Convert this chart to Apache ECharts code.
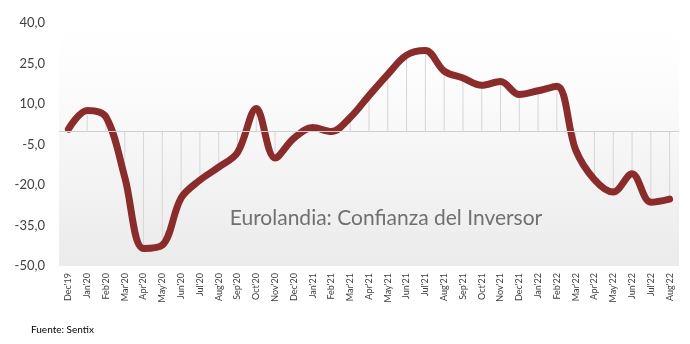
<!DOCTYPE html>
<html><head><meta charset="utf-8">
<script src="https://cdn.jsdelivr.net/npm/echarts@6/dist/echarts.min.js"></script>
<style>html,body{margin:0;padding:0;background:#fff}#c{width:690px;height:344px}</style>
</head><body><div id="c"></div>
<script>
const categories = ["Dec'19","Jan'20","Feb'20","Mar'20","Apr'20","May'20","Jun'20","Jul'20","Aug'20","Sep'20","Oct'20","Nov'20","Dec'20","Jan'21","Feb'21","Mar'21","Apr'21","May'21","Jun'21","Jul'21","Aug'21","Sep'21","Oct'21","Nov'21","Dec'21","Jan'22","Feb'22","Mar'22","Apr'22","May'22","Jun'22","Jul'22","Aug'22"];
const confidence = [0.7,7.6,5.2,-17.1,-43.5,-42.3,-24.8,-18.2,-13.4,-8.0,8.3,-10.0,-2.7,1.3,-0.2,5.0,13.1,21.0,28.1,29.8,22.2,19.6,16.9,18.3,13.5,14.9,16.6,-7.0,-18.0,-22.6,-15.8,-26.4,-25.2];
const yTickLabels = ["-50,0","-35,0","-20,0","-5,0","10,0","25,0","40,0"];
const chartTitle = "Eurolandia: Confianza del Inversor";
const sourceNote = "Fuente: Sentix";

const chart = echarts.init(document.getElementById('c'), null, {renderer:'canvas'});
const FONT = 'Lato';
chart.setOption({
  animation:false,
  title:[{text:chartTitle,left:381,top:203,textAlign:'center',
          textStyle:{fontFamily:FONT,fontSize:21,fontWeight:'normal',color:'#707070'}},
         {text:sourceNote,left:26,top:320,
          textStyle:{fontFamily:FONT,fontSize:10,fontWeight:'normal',color:'#000'}}],
  grid:{left:59,right:11,top:23,bottom:78,show:true,borderWidth:0,
        backgroundColor:new echarts.graphic.LinearGradient(0,0,0,1,[{offset:0,color:'#ffffff'},{offset:0.2,color:'#fdfdfd'},{offset:1,color:'#ebebeb'}])},
  xAxis:{type:'category',data:categories,boundaryGap:true,
    axisLine:{show:false},axisTick:{show:false},
    axisLabel:{rotate:90,fontFamily:FONT,fontSize:9,color:'#404040',margin:7,interval:0}},
  yAxis:[{type:'value',min:-50,max:40,show:false,splitLine:{show:false}},
         {type:'value',min:0,max:90,interval:15,position:'left',
          axisLine:{show:false},axisTick:{show:false},splitLine:{show:false},
          axisLabel:{fontFamily:FONT,fontSize:13,color:'#404040',margin:14,
            formatter:(v)=>yTickLabels[Math.round(v/15)]}}],
  series:[
    {type:'bar',data:confidence,barWidth:1,yAxisIndex:0,itemStyle:{color:'#d6d6d6'},silent:true,z:1,
     markLine:{silent:true,symbol:'none',label:{show:false},lineStyle:{color:'#d0d0d0',type:'solid',width:1},data:[{yAxis:0}]}},
    {type:'line',data:confidence,yAxisIndex:0,smooth:0.35,showSymbol:false,z:3,
     lineStyle:{color:'#8b2c2c',width:7,cap:'round',join:'round'}}
  ]
});
</script></body></html>
